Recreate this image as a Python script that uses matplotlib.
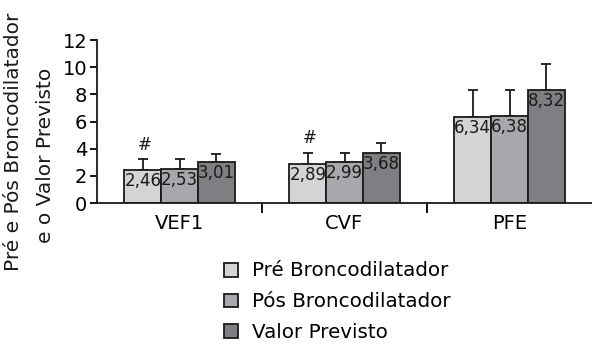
import numpy as np
import matplotlib
matplotlib.use("Agg")
import matplotlib.pyplot as plt
from matplotlib.patches import Patch

plt.rcParams['font.family'] = ['DejaVu Sans']

categorias = ["VEF1", "CVF", "PFE"]
series = ["Pré Broncodilatador", "Pós Broncodilatador", "Valor Previsto"]
pre = [2.46, 2.89, 6.34]
pos = [2.53, 2.99, 6.38]
previsto = [3.01, 3.68, 8.32]
err_pre = [0.76, 0.81, 1.99]
err_pos = [0.69, 0.71, 1.95]
err_previsto = [0.60, 0.72, 1.90]
marcas = ["#", "#", ""]  # marcador sobre a barra pré

cores = ['#d3d4d6', '#a7a8ab', '#7e7f83']

fig = plt.figure(figsize=(5.92, 3.44), dpi=100)
ax = fig.add_axes([97/592, 1-203/344, 1-97/592, 163/344])

x = np.arange(len(categorias))
w = 0.667 / 3
valores = [pre, pos, previsto]
erros = [err_pre, err_pos, err_previsto]

for i, (vals, errs, cor) in enumerate(zip(valores, erros, cores)):
    xi = x + (i - 1) * w
    ax.bar(xi, vals, width=w, color=cor, edgecolor='#1a1a1a', linewidth=1.3, zorder=2)
    ax.errorbar(xi, vals, yerr=[np.zeros(len(vals)), errs], fmt='none',
                ecolor='#1a1a1a', elinewidth=1.3, capsize=3.8, capthick=1.3, zorder=1)
    for xx, v in zip(xi, vals):
        ax.annotate(f"{v:.2f}".replace('.', ','), (xx, v), xytext=(0, -1.5),
                    textcoords='offset points', ha='center', va='top', fontsize=12,
                    color='#1a1a1a', zorder=3)

for xx, m, v, e in zip(x - w, marcas, pre, err_pre):
    if m:
        ax.annotate(m, (xx, v + e), xytext=(1, 4), textcoords='offset points',
                    ha='center', va='bottom', fontsize=12, color='#1a1a1a')

ax.set_xlim(-0.5, 2.5)
ax.set_ylim(0, 12)
ax.set_yticks(np.arange(0, 13, 2))
ax.set_xticks(x)
ax.set_xticklabels(categorias, fontsize=14)
ax.set_xticks([0.5, 1.5], minor=True)
ax.tick_params(axis='x', which='major', length=0, pad=8)
ax.tick_params(axis='x', which='minor', length=7, width=1.3, direction='out')
ax.tick_params(axis='y', length=5, width=1.3, labelsize=14, pad=2)
for s in ['top', 'right']:
    ax.spines[s].set_visible(False)
for s in ['left', 'bottom']:
    ax.spines[s].set_linewidth(1.3)
    ax.spines[s].set_color('#1a1a1a')

fig.text(14/592, 1-142/344, "Pré e Pós Broncodilatador", rotation=90,
         ha='center', va='center', fontsize=14.5, color='#1a1a1a')
fig.text(46/592, 1-155/344, "e o Valor Previsto", rotation=90,
         ha='center', va='center', fontsize=14.5, color='#1a1a1a')

handles = [Patch(facecolor=c, edgecolor='#1a1a1a', linewidth=1.3) for c in cores]
fig.legend(handles, series, loc='upper left', bbox_to_anchor=(224/592, 1-261.5/344),
           frameon=False, fontsize=14.3, handlelength=0.7, handleheight=0.7,
           handletextpad=0.7, labelspacing=0.6, borderpad=0, borderaxespad=0)

fig.savefig("out.png", dpi=100)
